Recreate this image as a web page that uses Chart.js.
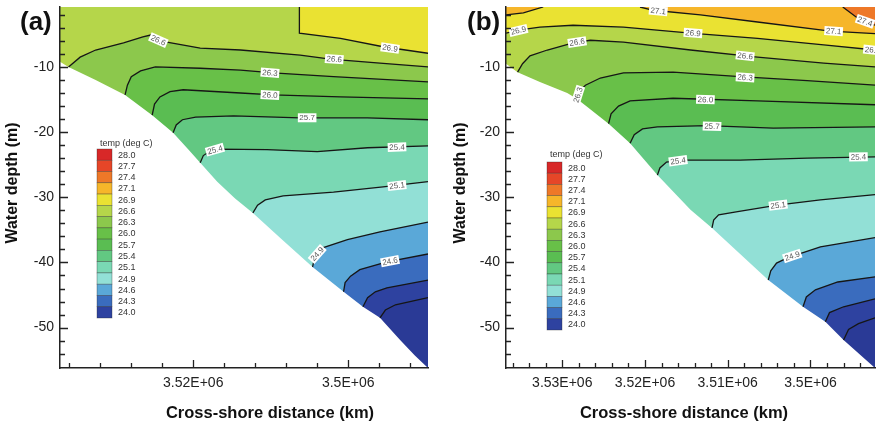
<!DOCTYPE html>
<html>
<head>
<meta charset="utf-8">
<script src="https://cdn.jsdelivr.net/npm/chart.js@4.4.0/dist/chart.umd.min.js"></script>
<style>
  html, body { margin: 0; padding: 0; background: #fff; }
  #wrap { position: relative; width: 880px; height: 424px; overflow: hidden; }
  canvas { position: absolute; top: 0; }
  #panelA { left: 0; }
  #panelB { left: 440px; }
</style>
</head>
<body>
<div id="wrap">
  <canvas id="panelA" width="440" height="424"></canvas>
  <canvas id="panelB" width="440" height="424"></canvas>
</div>
<script>
// temperature levels in the colour legend (deg C), warm to cold
const levels = [28.0, 27.7, 27.4, 27.1, 26.9, 26.6, 26.3, 26.0, 25.7, 25.4, 25.1, 24.9, 24.6, 24.3, 24.0];
const levelColors = ['#d82828', '#e64628', '#ee7828', '#f6b62a', '#eae232', '#b5d64a', '#8cc84c', '#68c048', '#5abd52',
                     '#62c882', '#7ad8b4', '#92e0d6', '#5aa8d8', '#3a6cbe', '#2e42a0'];
const belowColor = '#2a3a96';

const yRange = [-56.2, -0.8];
const yTicks = [-50, -40, -30, -20, -10];

// ---------- panel (a) ----------
const xRangeA = [3489700, 3537200];
const xTicksA = [3500000, 3520000];
const xTickLabelsA = ['3.5E+06', '3.52E+06'];

// sea bed (white area below)
const bedA = [[3537200, -9.2], [3536100, -10.0], [3532600, -12.0], [3528800, -14.3], [3525300, -17.4], [3522600, -20.1],
              [3520600, -22.7], [3519100, -24.7], [3516900, -27.6], [3514600, -30.2], [3512300, -32.4], [3508800, -36.2],
              [3504600, -40.7], [3500600, -44.5], [3498100, -46.8], [3495900, -48.5], [3493300, -51.9], [3491400, -54.3],
              [3489700, -56.2]];

// isotherms
const a269 = [[3506300, -0.8], [3506300, -4.8], [3501000, -5.6], [3495500, -6.9], [3489700, -7.9]];
const a266 = [[3536100, -10.0], [3534600, -8.5], [3532600, -7.4], [3529000, -6.3], [3526500, -5.4], [3525500, -5.1],
              [3523400, -6.2], [3519100, -7.1], [3513900, -7.4], [3506200, -8.2], [3502300, -8.8], [3495900, -9.4],
              [3489700, -10.0]];
const a263 = [[3528800, -14.3], [3528500, -12.8], [3528000, -11.5], [3526800, -10.6], [3524900, -10.0], [3519100, -10.2],
              [3513900, -10.5], [3509700, -10.9], [3501900, -11.5], [3489700, -12.3]];
const a260 = [[3525300, -17.4], [3525000, -15.7], [3524300, -14.6], [3523000, -13.8], [3521300, -13.5], [3513900, -14.0],
              [3509700, -14.3], [3501000, -14.6], [3489700, -14.9]];
const a257 = [[3522600, -20.1], [3522200, -18.9], [3521400, -18.1], [3519700, -17.7], [3514800, -17.5], [3506200, -17.8],
              [3497500, -17.8], [3489700, -18.1]];
const a254 = [[3519100, -24.7], [3518700, -23.6], [3517800, -22.9], [3516900, -22.6], [3510500, -22.7], [3504000, -23.0],
              [3497500, -22.4], [3489700, -22.1]];
const a251 = [[3512300, -32.4], [3511700, -31.2], [3510700, -30.4], [3508400, -29.8], [3501900, -29.2], [3495500, -28.4],
              [3489700, -27.6]];
const a249 = [[3504600, -40.7], [3504300, -39.0], [3503400, -37.8], [3500100, -36.5], [3495900, -35.3], [3489700, -33.8]];
const a246 = [[3500600, -44.5], [3500400, -43.1], [3499700, -42.1], [3498500, -41.1], [3495000, -39.9], [3489700, -38.7]];
const a243 = [[3498100, -46.8], [3497500, -45.4], [3496500, -44.5], [3495000, -43.9], [3489700, -42.7]];
const a240 = [[3495900, -48.5], [3495200, -47.3], [3493900, -46.5], [3489700, -45.4]];

const labelsA = [
  ['26.6', 3524500, -5.9, a266], ['26.9', 3494600, -7.1, a269], ['26.6', 3501800, -8.8, a266],
  ['26.3', 3510100, -10.9, a263], ['26.0', 3510100, -14.3, a260], ['25.7', 3505300, -17.8, a257],
  ['25.4', 3517200, -22.7, a254], ['25.4', 3493700, -22.3, a254], ['25.1', 3493700, -28.2, a251],
  ['24.9', 3504000, -38.7, a249], ['24.6', 3494600, -39.8, a246]
];

// ---------- panel (b) ----------
const xRangeB = [3492200, 3536800];
const xTicksB = [3500000, 3510000, 3520000, 3530000];
const xTickLabelsB = ['3.5E+06', '3.51E+06', '3.52E+06', '3.53E+06'];

const bedB = [[3536800, -9.5], [3535400, -10.8], [3532700, -12.3], [3529400, -14.0], [3528200, -14.9], [3527000, -16.1],
              [3524400, -18.7], [3521800, -21.7], [3518500, -26.6], [3514500, -31.9], [3511900, -34.7], [3508500, -38.7],
              [3505100, -42.7], [3500900, -46.8], [3498200, -49.1], [3496000, -51.9], [3492200, -56.2]];

const b274 = [[3496100, -0.8], [3494000, -2.8], [3492200, -3.6]];
const b271w = [[3536800, -2.0], [3534700, -1.7], [3532300, -0.8]];
const b271 = [[3520600, -0.8], [3519000, -1.3], [3513300, -2.0], [3506400, -3.1], [3497600, -4.5], [3492200, -4.9]];
const b269 = [[3536800, -4.8], [3535100, -4.3], [3532700, -3.9], [3528700, -3.6], [3522600, -3.9], [3514500, -4.8],
              [3506400, -5.6], [3498400, -6.6], [3492200, -7.4]];
const b266 = [[3535400, -10.8], [3534800, -9.5], [3533900, -8.3], [3531800, -7.4], [3528700, -6.3], [3526600, -5.9],
              [3522600, -6.2], [3514500, -7.4], [3506400, -8.5], [3498400, -9.4], [3492200, -10.0]];
const b263 = [[3528200, -14.9], [3527900, -13.7], [3527200, -12.8], [3525400, -11.7], [3522600, -10.9], [3516600, -10.8],
              [3508500, -11.5], [3500400, -12.1], [3492200, -12.8]];
const b260 = [[3524400, -18.7], [3524100, -17.2], [3523200, -16.0], [3521800, -15.2], [3516600, -14.8], [3506400, -15.2],
              [3492200, -15.8]];
const b257 = [[3521800, -21.7], [3521300, -20.4], [3520300, -19.5], [3518500, -19.2], [3512500, -19.0], [3504500, -19.4],
              [3492200, -19.2]];
const b254 = [[3518500, -26.6], [3518200, -25.5], [3517400, -24.6], [3515700, -24.3], [3508500, -24.3], [3500400, -24.0],
              [3492200, -23.8]];
const b251 = [[3511900, -34.7], [3511700, -33.5], [3511100, -32.7], [3508800, -32.2], [3504000, -31.2], [3498800, -30.4],
              [3492200, -29.6]];
const b249 = [[3505100, -42.7], [3504800, -41.3], [3504100, -40.1], [3502800, -39.3], [3498800, -37.6], [3492200, -36.2]];
const b246 = [[3500900, -46.8], [3500500, -45.3], [3499400, -44.2], [3496700, -43.0], [3492200, -42.2]];
const b243 = [[3498200, -49.1], [3497700, -47.7], [3496000, -46.8], [3492200, -45.6]];
const b240 = [[3496000, -51.9], [3495400, -50.3], [3494200, -49.4], [3492200, -48.5]];

const labelsB = [
  ['27.1', 3518400, -1.4, b271], ['27.4', 3493400, -3.0, b274], ['27.1', 3497200, -4.5, b271],
  ['26.9', 3535300, -4.4, b269], ['26.9', 3514200, -4.8, b269], ['26.9', 3492500, -7.4, b269],
  ['26.6', 3528200, -6.2, b266], ['26.6', 3507900, -8.3, b266],
  ['26.3', 3528100, -14.3, b263], ['26.3', 3507900, -11.6, b263],
  ['26.0', 3512700, -15.0, b260], ['25.7', 3511900, -19.1, b257],
  ['25.4', 3516000, -24.4, b254], ['25.4', 3494200, -23.8, b254],
  ['25.1', 3503900, -31.2, b251], ['24.9', 3502200, -39.0, b249]
];

const panels = [
  {
    id: 'panelA', tag: '(a)', xRange: xRangeA, xTicks: xTicksA, xTickLabels: xTickLabelsA, xMinorStep: 4000,
    bed: bedA, baseLevel: 26.6, labels: labelsA,
    isolines: [
      {level: 26.9, pts: a269, side: 'warmRight'}, {level: 26.6, pts: a266, side: 'cold'},
      {level: 26.3, pts: a263, side: 'cold'}, {level: 26.0, pts: a260, side: 'cold'},
      {level: 25.7, pts: a257, side: 'cold'}, {level: 25.4, pts: a254, side: 'cold'},
      {level: 25.1, pts: a251, side: 'cold'}, {level: 24.9, pts: a249, side: 'cold'},
      {level: 24.6, pts: a246, side: 'cold'}, {level: 24.3, pts: a243, side: 'cold'},
      {level: 24.0, pts: a240, side: 'cold'}
    ],
    yAxisWidth: 60, padRight: 12,
    tagX: 20, yTitleX: 13, xTitleX: 270,
    legend: {x: 97, y: 149, w: 15, h: 169, titleX: 100, titleY: 144}
  },
  {
    id: 'panelB', tag: '(b)', xRange: xRangeB, xTicks: xTicksB, xTickLabels: xTickLabelsB, xMinorStep: 2000,
    bed: bedB, baseLevel: 26.9, labels: labelsB,
    isolines: [
      {level: 27.1, pts: b271w, side: 'warmLeft'}, {level: 27.1, pts: b271, side: 'warmRight'},
      {level: 27.4, pts: b274, side: 'warmRight'}, {level: 26.9, pts: b269, side: 'cold'},
      {level: 26.6, pts: b266, side: 'cold'}, {level: 26.3, pts: b263, side: 'cold'},
      {level: 26.0, pts: b260, side: 'cold'}, {level: 25.7, pts: b257, side: 'cold'},
      {level: 25.4, pts: b254, side: 'cold'}, {level: 25.1, pts: b251, side: 'cold'},
      {level: 24.9, pts: b249, side: 'cold'}, {level: 24.6, pts: b246, side: 'cold'},
      {level: 24.3, pts: b243, side: 'cold'}, {level: 24.0, pts: b240, side: 'cold'}
    ],
    yAxisWidth: 66, padRight: 5,
    tagX: 27, yTitleX: 21, xTitleX: 244,
    legend: {x: 107, y: 162, w: 15, h: 168, titleX: 110, titleY: 155}
  }
];

Chart.defaults.font.family = '"Liberation Sans", Arial, sans-serif';
Chart.defaults.color = '#222';

function colorOf(level) {
  return levelColors[levels.indexOf(level)];
}

function colderColor(level) {
  const i = levels.indexOf(level);
  return i + 1 < levels.length ? levelColors[i + 1] : belowColor;
}

function toXY(pts) {
  return pts.map(([x, y]) => ({x, y}));
}

function buildDatasets(p) {
  const xLeft = p.xRange[1], xRight = p.xRange[0];   // axis is reversed
  const yBot = yRange[0], yTop = yRange[1];
  const ds = [];
  const poly = (pts, color) => ds.push({
    data: toXY(pts), fill: 'shape', backgroundColor: color, borderColor: 'transparent', borderWidth: 0
  });

  // warmest band at the surface fills everything first
  poly([[xLeft, yTop], [xRight, yTop], [xRight, yBot], [xLeft, yBot]], colorOf(p.baseLevel));

  // each isotherm paints its colder (or warmer) side, warm to cold
  p.isolines.forEach(c => {
    const first = c.pts[0];
    if (c.side === 'cold') poly([...c.pts, [xRight, yBot], [first[0], yBot]], colderColor(c.level));
    else if (c.side === 'warmRight') poly([...c.pts, [xRight, yTop]], colorOf(c.level));
    else poly([...c.pts, [xLeft, yTop]], colorOf(c.level));
  });

  // sea bed
  poly([...p.bed, [xLeft, yBot]], '#ffffff');

  // contour lines
  p.isolines.forEach(c => ds.push({
    data: toXY(c.pts), fill: false, borderColor: '#161616', borderWidth: 1.3
  }));

  ds.forEach((d, i) => {
    d.order = -i;
    d.pointRadius = 0;
    d.tension = 0;
  });
  return ds;
}

function makeDecor(p) {
  return {
    id: 'decor_' + p.id,
    afterDatasetsDraw(chart) {
      const ctx = chart.ctx, xs = chart.scales.x, ys = chart.scales.y, a = chart.chartArea;

      // contour labels, turned along the line
      ctx.save();
      ctx.beginPath();
      ctx.rect(a.left, a.top, a.right - a.left, a.bottom - a.top);
      ctx.clip();
      ctx.font = '8px "Liberation Sans", Arial, sans-serif';
      ctx.textAlign = 'center';
      ctx.textBaseline = 'middle';
      p.labels.forEach(([text, x, y, line]) => {
        const px = xs.getPixelForValue(x), py = ys.getPixelForValue(y);
        let best = Infinity, ang = 0;
        for (let i = 0; i < line.length - 1; i++) {
          const ax = xs.getPixelForValue(line[i][0]), ay = ys.getPixelForValue(line[i][1]);
          const bx = xs.getPixelForValue(line[i + 1][0]), by = ys.getPixelForValue(line[i + 1][1]);
          const dx = bx - ax, dy = by - ay, len2 = dx * dx + dy * dy || 1;
          const t = Math.max(0, Math.min(1, ((px - ax) * dx + (py - ay) * dy) / len2));
          const d = Math.hypot(ax + t * dx - px, ay + t * dy - py);
          if (d < best) { best = d; ang = Math.atan2(dy, dx); }
        }
        if (ang > Math.PI / 2) ang -= Math.PI;
        if (ang < -Math.PI / 2) ang += Math.PI;
        const w = ctx.measureText(text).width + 3;
        ctx.save();
        ctx.translate(px, py);
        ctx.rotate(ang);
        ctx.fillStyle = '#ffffff';
        ctx.fillRect(-w / 2, -4.5, w, 9);
        ctx.fillStyle = '#5a5a5a';
        ctx.fillText(text, 0, 0.5);
        ctx.restore();
      });
      ctx.restore();

      // inward tick marks
      ctx.save();
      ctx.strokeStyle = '#222';
      ctx.lineWidth = 1.3;
      ctx.beginPath();
      const xMin = p.xRange[0], xMax = p.xRange[1];
      for (let v = Math.ceil(xMin / p.xMinorStep) * p.xMinorStep; v <= xMax; v += p.xMinorStep) {
        const px = Math.round(xs.getPixelForValue(v)) + 0.5;
        const len = p.xTicks.includes(v) ? 8 : 5;
        ctx.moveTo(px, a.bottom);
        ctx.lineTo(px, a.bottom - len);
      }
      for (let v = -2; v >= -54; v -= 2) {
        const py = Math.round(ys.getPixelForValue(v)) + 0.5;
        const len = yTicks.includes(v) ? 8 : 5;
        ctx.moveTo(a.left, py);
        ctx.lineTo(a.left + len, py);
      }
      ctx.stroke();
      ctx.restore();
    },
    afterDraw(chart) {
      const ctx = chart.ctx;
      const L = p.legend;
      ctx.save();

      // colour legend
      ctx.font = '9px "Liberation Sans", Arial, sans-serif';
      ctx.fillStyle = '#333';
      ctx.textAlign = 'left';
      ctx.textBaseline = 'middle';
      ctx.fillText('temp (deg C)', L.titleX, L.titleY);
      const bh = L.h / levels.length;
      levels.forEach((lv, i) => {
        ctx.fillStyle = levelColors[i];
        ctx.fillRect(L.x, L.y + i * bh, L.w, bh);
        ctx.strokeStyle = 'rgba(40,40,40,0.55)';
        ctx.lineWidth = 0.6;
        ctx.strokeRect(L.x, L.y + i * bh, L.w, bh);
        ctx.fillStyle = '#333';
        ctx.fillText(lv.toFixed(1), L.x + L.w + 6, L.y + (i + 0.5) * bh + 0.5);
      });

      // panel tag and axis titles
      ctx.fillStyle = '#111';
      ctx.font = 'bold 26px "Liberation Sans", Arial, sans-serif';
      ctx.fillText(p.tag, p.tagX, 23);

      ctx.font = 'bold 16.5px "Liberation Sans", Arial, sans-serif';
      ctx.textAlign = 'center';
      ctx.fillText('Cross-shore distance (km)', p.xTitleX, 413);

      ctx.font = 'bold 16px "Liberation Sans", Arial, sans-serif';
      ctx.translate(p.yTitleX, 183);
      ctx.rotate(-Math.PI / 2);
      ctx.fillText('Water depth (m)', 0, 0);
      ctx.restore();
    }
  };
}

panels.forEach(p => {
  const ctx = document.getElementById(p.id).getContext('2d');
  new Chart(ctx, {
    type: 'line',
    data: {datasets: buildDatasets(p)},
    options: {
      responsive: false,
      animation: false,
      devicePixelRatio: 1,
      events: [],
      layout: {padding: {top: 7, right: p.padRight, left: 0, bottom: 0}},
      plugins: {legend: {display: false}, tooltip: {enabled: false}},
      elements: {point: {radius: 0}},
      scales: {
        x: {
          type: 'linear',
          reverse: true,
          min: p.xRange[0],
          max: p.xRange[1],
          afterBuildTicks: s => { s.ticks = p.xTicks.map(v => ({value: v})); },
          afterFit: s => { s.height = 56; s.paddingLeft = 0; s.paddingRight = 0; },
          grid: {display: false, drawTicks: false},
          border: {display: true, color: '#222', width: 1.5, z: 1},
          ticks: {
            padding: 7, color: '#222', font: {size: 14}, maxRotation: 0, autoSkip: false,
            callback: v => p.xTickLabels[p.xTicks.indexOf(v)]
          }
        },
        y: {
          type: 'linear',
          min: yRange[0],
          max: yRange[1],
          afterBuildTicks: s => { s.ticks = yTicks.map(v => ({value: v})); },
          afterFit: s => { s.width = p.yAxisWidth; s.paddingTop = 0; s.paddingBottom = 0; },
          grid: {display: false, drawTicks: false},
          border: {display: true, color: '#222', width: 1.5, z: 1},
          ticks: {padding: 6, color: '#222', font: {size: 14}, autoSkip: false}
        }
      }
    },
    plugins: [makeDecor(p)]
  });
});
</script>
</body>
</html>
